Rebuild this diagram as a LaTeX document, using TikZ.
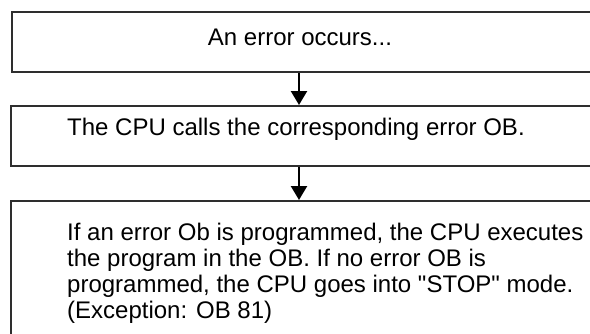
\documentclass[tikz,border=0pt]{standalone}
\usepackage{fontspec}
\newfontfamily\lsans{Liberation Sans}
\usetikzlibrary{arrows.meta}
\begin{document}
\begin{tikzpicture}[x=1pt,y=-1pt,
  box/.style={draw=black!82, line width=1.8pt, fill=white, inner sep=0pt},
  arr/.style={draw=black, line width=2.4pt, -{Triangle[width=16pt,length=14pt]}},
  txt/.style={font=\lsans\fontsize{24}{26}\selectfont, inner sep=0pt, text=black}]
\useasboundingbox (0,0) rectangle (590,333);
\clip (0,0) rectangle (590,333);
\fill[white] (0,0) rectangle (590,333);
\node[box, anchor=north west, minimum width=590pt, minimum height=60pt] (b1) at (11,11) {};
\node[box, anchor=north west, minimum width=590pt, minimum height=60pt] (b2) at (10,105) {};
\node[box, anchor=north west, minimum width=590pt, minimum height=160pt] (b3) at (10,200) {};
\coordinate (ax) at (299,0);
\node[txt] (t1) at (300,37) {An error occurs...};
\node[txt] (t2) at (296,129) {The CPU calls the corresponding error OB.};
\node[txt, align=left, anchor=north west] (t3) at (67,223) {If an error Ob is programmed, the CPU executes\\the program in the OB. If no error OB is\\programmed, the CPU goes into "STOP" mode.\\(Exception: OB 81)};
\draw[arr] (ax |- b1.south) -- (ax |- b2.north);
\draw[arr] (ax |- b2.south) -- (ax |- b3.north);
\end{tikzpicture}
\end{document}
